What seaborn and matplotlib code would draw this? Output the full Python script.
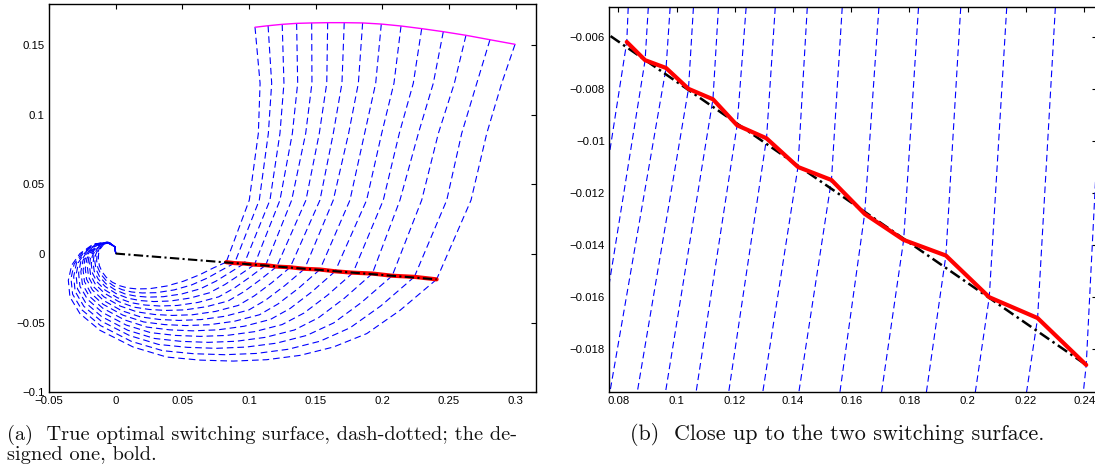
import matplotlib
matplotlib.use("Agg")
import matplotlib.pyplot as plt
import seaborn as sns
import pandas as pd

sns.set_style("white")
plt.rcParams["font.family"] = ["Liberation Sans", "DejaVu Sans"]

# ---- left panel: trajectories before the switch (top of the fan) ----
top_x = [0.1045, 0.1143, 0.1249, 0.1357, 0.1470, 0.1590, 0.1714, 0.1852, 0.1992, 0.2140, 0.2295, 0.2457, 0.2627, 0.2807, 0.2995]
top_y = [0.1631, 0.1642, 0.1652, 0.1659, 0.1662, 0.1664, 0.1664, 0.1662, 0.1654, 0.1640, 0.1621, 0.1599, 0.1573, 0.1541, 0.1508]
lvl_y = [0.1227, 0.0866, 0.0385]
x_at_lvl = [
    [0.1083, 0.1170, 0.1262, 0.1365, 0.1472, 0.1583, 0.1697, 0.1820, 0.1950, 0.2087, 0.2232, 0.2382, 0.2540, 0.2708, 0.2895],
    [0.1070, 0.1145, 0.1232, 0.1325, 0.1425, 0.1527, 0.1632, 0.1747, 0.1867, 0.1995, 0.2127, 0.2270, 0.2420, 0.2595, 0.2783],
    [0.1002, 0.1077, 0.1157, 0.1232, 0.1320, 0.1427, 0.1532, 0.1632, 0.1757, 0.1882, 0.2007, 0.2132, 0.2295, 0.2483, 0.2665],
]

# switching points (designed surface vertices)
sw_x = [0.0829, 0.0892, 0.0964, 0.1041, 0.1125, 0.1208, 0.1309, 0.1417, 0.1532, 0.1646, 0.1780, 0.1925, 0.2074, 0.2240, 0.2407]
sw_y = [-0.0062, -0.0069, -0.0072, -0.0080, -0.0084, -0.0094, -0.0099, -0.0110, -0.0115, -0.0128, -0.0138, -0.0144, -0.0160, -0.0168, -0.0186]

# ---- left panel: trajectories after the switch (arcs into the origin) ----
arc_x = [
    [0.0829, 0.0732, 0.0632, 0.0507, 0.0383, 0.0257, 0.0160, 0.0090, 0.0030, -0.0025, -0.0070, -0.0102, -0.0122, -0.0130, -0.0128, -0.0115, -0.0088, -0.0045, -0.0005, 0.0],
    [0.0892, 0.0791, 0.0689, 0.0570, 0.0439, 0.0306, 0.0200, 0.0120, 0.0050, -0.0016, -0.0073, -0.0111, -0.0134, -0.0143, -0.0139, -0.0124, -0.0092, -0.0046, -0.0005, 0.0],
    [0.0964, 0.0858, 0.0752, 0.0635, 0.0497, 0.0357, 0.0242, 0.0152, 0.0070, -0.0007, -0.0075, -0.0121, -0.0147, -0.0156, -0.0151, -0.0132, -0.0097, -0.0048, -0.0005, 0.0],
    [0.1041, 0.0929, 0.0818, 0.0703, 0.0557, 0.0410, 0.0286, 0.0185, 0.0092, 0.0002, -0.0078, -0.0131, -0.0161, -0.0169, -0.0163, -0.0142, -0.0102, -0.0049, -0.0005, 0.0],
    [0.1125, 0.1005, 0.0889, 0.0773, 0.0619, 0.0464, 0.0331, 0.0219, 0.0114, 0.0012, -0.0081, -0.0141, -0.0174, -0.0183, -0.0176, -0.0151, -0.0107, -0.0050, -0.0005, 0.0],
    [0.1208, 0.1081, 0.0960, 0.0843, 0.0681, 0.0519, 0.0376, 0.0252, 0.0135, 0.0022, -0.0084, -0.0152, -0.0188, -0.0197, -0.0188, -0.0161, -0.0112, -0.0052, -0.0005, 0.0],
    [0.1309, 0.1171, 0.1041, 0.0919, 0.0749, 0.0578, 0.0425, 0.0289, 0.0159, 0.0033, -0.0088, -0.0163, -0.0203, -0.0212, -0.0202, -0.0171, -0.0117, -0.0053, -0.0005, 0.0],
    [0.1417, 0.1267, 0.1127, 0.0998, 0.0819, 0.0639, 0.0475, 0.0327, 0.0184, 0.0043, -0.0091, -0.0174, -0.0218, -0.0228, -0.0216, -0.0182, -0.0123, -0.0055, -0.0005, 0.0],
    [0.1532, 0.1370, 0.1218, 0.1079, 0.0891, 0.0702, 0.0527, 0.0366, 0.0210, 0.0055, -0.0094, -0.0186, -0.0234, -0.0244, -0.0231, -0.0193, -0.0129, -0.0057, -0.0005, 0.0],
    [0.1646, 0.1471, 0.1308, 0.1160, 0.0963, 0.0765, 0.0579, 0.0405, 0.0235, 0.0066, -0.0098, -0.0198, -0.0250, -0.0261, -0.0245, -0.0204, -0.0134, -0.0058, -0.0005, 0.0],
    [0.1780, 0.1589, 0.1412, 0.1248, 0.1041, 0.0834, 0.0635, 0.0448, 0.0262, 0.0078, -0.0102, -0.0211, -0.0268, -0.0278, -0.0261, -0.0216, -0.0141, -0.0060, -0.0005, 0.0],
    [0.1925, 0.1715, 0.1522, 0.1340, 0.1122, 0.0905, 0.0694, 0.0492, 0.0291, 0.0091, -0.0106, -0.0225, -0.0286, -0.0297, -0.0278, -0.0228, -0.0147, -0.0062, -0.0005, 0.0],
    [0.2074, 0.1844, 0.1635, 0.1433, 0.1205, 0.0978, 0.0754, 0.0537, 0.0321, 0.0104, -0.0110, -0.0239, -0.0304, -0.0315, -0.0294, -0.0241, -0.0154, -0.0064, -0.0005, 0.0],
    [0.2240, 0.1989, 0.1758, 0.1532, 0.1293, 0.1055, 0.0818, 0.0585, 0.0352, 0.0118, -0.0114, -0.0253, -0.0323, -0.0335, -0.0312, -0.0254, -0.0161, -0.0066, -0.0005, 0.0],
    [0.2407, 0.2133, 0.1883, 0.1632, 0.1382, 0.1133, 0.0882, 0.0633, 0.0383, 0.0132, -0.0118, -0.0268, -0.0343, -0.0355, -0.0330, -0.0268, -0.0168, -0.0068, -0.0005, 0.0],
]
arc_y = [
    [-0.0062, -0.0104, -0.0152, -0.0200, -0.0234, -0.0253, -0.0255, -0.0248, -0.0232, -0.0207, -0.0172, -0.0132, -0.0088, -0.0042, 0.0000, 0.0035, 0.0068, 0.0078, 0.0048, 0.0],
    [-0.0069, -0.0121, -0.0176, -0.0226, -0.0262, -0.0282, -0.0284, -0.0277, -0.0261, -0.0233, -0.0193, -0.0149, -0.0101, -0.0050, -0.0005, 0.0033, 0.0068, 0.0078, 0.0048, 0.0],
    [-0.0072, -0.0136, -0.0199, -0.0254, -0.0291, -0.0311, -0.0314, -0.0307, -0.0291, -0.0260, -0.0216, -0.0166, -0.0114, -0.0059, -0.0010, 0.0031, 0.0068, 0.0078, 0.0048, 0.0],
    [-0.0080, -0.0154, -0.0224, -0.0283, -0.0321, -0.0342, -0.0346, -0.0339, -0.0322, -0.0288, -0.0238, -0.0184, -0.0127, -0.0068, -0.0015, 0.0029, 0.0068, 0.0078, 0.0048, 0.0],
    [-0.0084, -0.0171, -0.0249, -0.0312, -0.0352, -0.0374, -0.0378, -0.0371, -0.0354, -0.0318, -0.0262, -0.0203, -0.0141, -0.0078, -0.0020, 0.0027, 0.0068, 0.0078, 0.0048, 0.0],
    [-0.0094, -0.0191, -0.0276, -0.0342, -0.0383, -0.0406, -0.0410, -0.0403, -0.0386, -0.0346, -0.0286, -0.0222, -0.0155, -0.0087, -0.0025, 0.0025, 0.0068, 0.0078, 0.0048, 0.0],
    [-0.0099, -0.0210, -0.0304, -0.0374, -0.0417, -0.0441, -0.0446, -0.0439, -0.0420, -0.0378, -0.0312, -0.0242, -0.0170, -0.0097, -0.0031, 0.0022, 0.0068, 0.0078, 0.0048, 0.0],
    [-0.0110, -0.0232, -0.0334, -0.0407, -0.0452, -0.0476, -0.0482, -0.0475, -0.0456, -0.0411, -0.0338, -0.0263, -0.0186, -0.0108, -0.0037, 0.0020, 0.0068, 0.0081, 0.0048, 0.0],
    [-0.0115, -0.0251, -0.0363, -0.0441, -0.0488, -0.0513, -0.0519, -0.0512, -0.0493, -0.0444, -0.0366, -0.0285, -0.0202, -0.0119, -0.0043, 0.0017, 0.0068, 0.0081, 0.0048, 0.0],
    [-0.0128, -0.0276, -0.0396, -0.0475, -0.0524, -0.0550, -0.0557, -0.0550, -0.0530, -0.0478, -0.0393, -0.0307, -0.0219, -0.0130, -0.0049, 0.0015, 0.0068, 0.0081, 0.0048, 0.0],
    [-0.0138, -0.0300, -0.0429, -0.0512, -0.0563, -0.0590, -0.0597, -0.0590, -0.0570, -0.0515, -0.0423, -0.0330, -0.0236, -0.0141, -0.0055, 0.0012, 0.0068, 0.0081, 0.0048, 0.0],
    [-0.0144, -0.0322, -0.0462, -0.0551, -0.0604, -0.0632, -0.0640, -0.0633, -0.0612, -0.0553, -0.0454, -0.0355, -0.0255, -0.0154, -0.0062, 0.0009, 0.0068, 0.0081, 0.0048, 0.0],
    [-0.0160, -0.0352, -0.0500, -0.0590, -0.0646, -0.0674, -0.0683, -0.0676, -0.0655, -0.0591, -0.0486, -0.0380, -0.0273, -0.0166, -0.0069, 0.0006, 0.0068, 0.0081, 0.0048, 0.0],
    [-0.0168, -0.0377, -0.0535, -0.0632, -0.0690, -0.0720, -0.0729, -0.0722, -0.0700, -0.0633, -0.0519, -0.0406, -0.0293, -0.0180, -0.0077, 0.0003, 0.0068, 0.0081, 0.0048, 0.0],
    [-0.0186, -0.0409, -0.0577, -0.0674, -0.0734, -0.0765, -0.0775, -0.0768, -0.0746, -0.0674, -0.0553, -0.0433, -0.0313, -0.0193, -0.0084, 0.0000, 0.0068, 0.0081, 0.0048, 0.0],
]

# true (optimal) switching surface, straight through the origin
true_x = [0.0, 0.2407]
true_y = [0.0, -0.0186]

# ---- right panel: close-up lines (top edge -> switch point -> bottom edge) ----
zoom_top_y = -0.00487
zoom_bot_y = -0.01965
zoom_top_x = [0.0834, 0.0903, 0.0978, 0.1058, 0.1144, 0.1239, 0.1339, 0.1449, 0.1569, 0.1695, 0.1831, 0.1976, 0.2134, 0.2301, 0.2469]
zoom_bot_x = [0.0642, 0.0709, 0.0771, 0.0865, 0.0962, 0.1067, 0.1179, 0.1296, 0.1420, 0.1561, 0.1704, 0.1858, 0.2026, 0.2202, 0.2397]

caption_a = ["(a)  True optimal switching surface, dash-dotted; the de-", "signed one, bold."]
caption_b = "(b)  Close up to the two switching surface."

# ---- build tables for seaborn ----
rows = []
for k in range(len(top_x)):
    xs = [top_x[k]] + [lv[k] for lv in x_at_lvl] + [sw_x[k]]
    ys = [top_y[k]] + lvl_y + [sw_y[k]]
    for i, (x, y) in enumerate(zip(xs, ys)):
        rows.append({"traj": f"u{k}", "order": i, "x": x, "y": y})
    for i, (x, y) in enumerate(zip(arc_x[k], arc_y[k])):
        rows.append({"traj": f"l{k}", "order": i, "x": x, "y": y})
traj = pd.DataFrame(rows)

rows = []
for k in range(len(sw_x)):
    for i, (x, y) in enumerate([(zoom_top_x[k], zoom_top_y), (sw_x[k], sw_y[k]), (zoom_bot_x[k], zoom_bot_y)]):
        rows.append({"traj": k, "order": i, "x": x, "y": y})
close = pd.DataFrame(rows)

blue_ls = (0, (6, 3.5))
dashdot = (0, (4.5, 1.6, 1.0, 1.6))


def fmt(v, pos):
    s = f"{v:g}"
    return s.replace("-", "\u2212")


def style_axes(ax):
    for sp in ax.spines.values():
        sp.set_visible(True)
        sp.set_linewidth(1.0)
        sp.set_color("black")
    ax.tick_params(direction="in", length=3.5, width=0.8, top=True, right=True,
                   labelsize=8.2, colors="black", pad=3)
    ax.xaxis.set_major_formatter(plt.FuncFormatter(fmt))
    ax.yaxis.set_major_formatter(plt.FuncFormatter(fmt))
    ax.set_xlabel("")
    ax.set_ylabel("")


fig = plt.figure(figsize=(10.95, 4.71), dpi=100)
W, H = 1095, 471
ax1 = fig.add_axes([49 / W, 1 - 392.3 / H, (535.7 - 49) / W, (392.3 - 3.8) / H])
ax2 = fig.add_axes([609 / W, 1 - 392.3 / H, (1097 - 609) / W, (392.3 - 7.3) / H])

# left panel
sns.lineplot(data=traj, x="x", y="y", units="traj", estimator=None, sort=False,
             color="blue", lw=0.8, linestyle=blue_ls, ax=ax1)
sns.lineplot(x=top_x, y=top_y, sort=False, color="magenta", lw=1.0, ax=ax1)
sns.lineplot(x=sw_x, y=sw_y, sort=False, color="red", lw=3.0, ax=ax1)
sns.lineplot(x=true_x, y=true_y, sort=False, color="black", lw=1.5, linestyle=dashdot, ax=ax1)
ax1.set_xlim(-0.05, 0.315)
ax1.set_ylim(-0.1, 0.18)
ax1.set_xticks([-0.05, 0, 0.05, 0.1, 0.15, 0.2, 0.25, 0.3])
ax1.set_yticks([-0.1, -0.05, 0, 0.05, 0.1, 0.15])
style_axes(ax1)

# right panel
sns.lineplot(data=close, x="x", y="y", units="traj", estimator=None, sort=False,
             color="blue", lw=0.8, linestyle=blue_ls, ax=ax2)
sns.lineplot(x=true_x, y=true_y, sort=False, color="black", lw=1.8, linestyle=dashdot, ax=ax2)
sns.lineplot(x=sw_x, y=sw_y, sort=False, color="red", lw=3.0, ax=ax2)
ax2.set_xlim(0.0768, 0.2444)
ax2.set_ylim(zoom_bot_y, zoom_top_y)
ax2.set_xticks([0.08, 0.1, 0.12, 0.14, 0.16, 0.18, 0.2, 0.22, 0.24])
ax2.set_yticks([-0.018, -0.016, -0.014, -0.012, -0.01, -0.008, -0.006])
style_axes(ax2)

cap_family = ["cmr10", "DejaVu Serif"]
fig.text(7 / W, 1 - 440 / H, caption_a[0], ha="left", va="baseline",
         family=cap_family, size=14.7, color="#111111")
fig.text(7 / W, 1 - 460 / H, caption_a[1], ha="left", va="baseline",
         family=cap_family, size=14.7, color="#111111")
fig.text(630 / W, 1 - 440 / H, caption_b, ha="left", va="baseline",
         family=cap_family, size=15.9, color="#111111")

fig.savefig("out.png", dpi=100)
